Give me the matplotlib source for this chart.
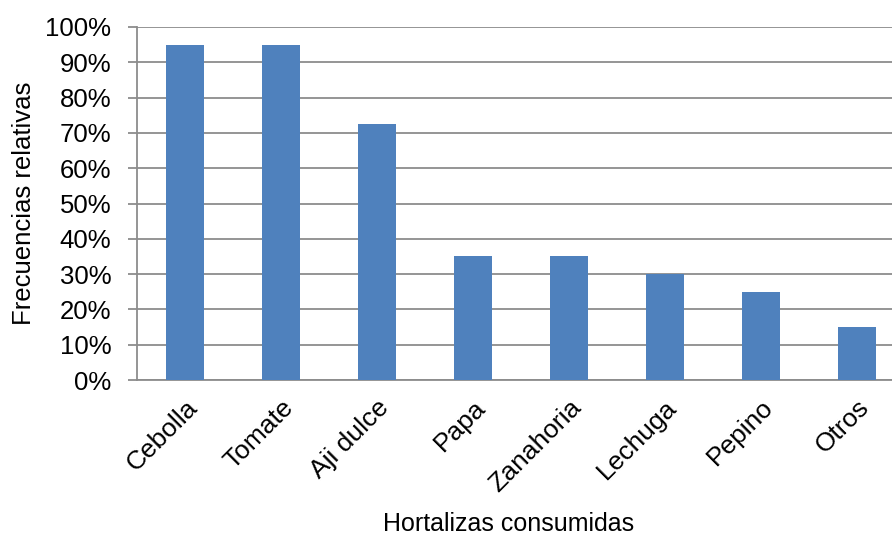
import matplotlib.pyplot as plt
import numpy as np
from matplotlib.ticker import PercentFormatter

plt.rcParams['font.family'] = ['Liberation Sans', 'DejaVu Sans']

hortalizas = ["Cebolla", "Tomate", "Aji dulce", "Papa", "Zanahoria", "Lechuga", "Pepino", "Otros"]
frecuencias = [95, 95, 72.5, 35, 35, 30, 25, 15]

fig = plt.figure(figsize=(8.92, 5.38), dpi=100)
# plot area runs slightly past the right edge, as in the original
ax = fig.add_axes([137/892, 1 - 380/538, 768/892, 353/538])

x = np.arange(len(hortalizas))
ax.bar(x, frecuencias, width=0.4, color="#4F81BD", zorder=3)

ax.set_xlim(-0.5, len(hortalizas) - 0.5)
ax.set_ylim(0, 100)
ax.set_yticks(np.arange(0, 101, 10))
ax.yaxis.set_major_formatter(PercentFormatter(decimals=0))
ax.grid(axis='y', color='#8c8c8c', linewidth=1.3, zorder=0)

for s in ['top', 'right']:
    ax.spines[s].set_visible(False)
for s in ['left', 'bottom']:
    ax.spines[s].set_color('#8c8c8c')
    ax.spines[s].set_linewidth(1.3)

ax.tick_params(axis='y', length=6.5, width=1.3, color='#8c8c8c', labelsize=18.5, pad=12)
ax.tick_params(axis='x', length=0, labelsize=19, pad=11)
ax.set_xticks(x)
ax.set_xticklabels(hortalizas, rotation=45, ha='right', va='top', rotation_mode='anchor')

ax.set_ylabel("Frecuencias relativas", fontsize=18.5)
ax.yaxis.set_label_coords((36 - 137) / 768, 0.5)
ax.set_xlabel("Hortalizas consumidas", fontsize=18)
ax.xaxis.set_label_coords((509 - 137) / 768, -(512 - 380) / 353)

fig.savefig("out.png", dpi=100)
